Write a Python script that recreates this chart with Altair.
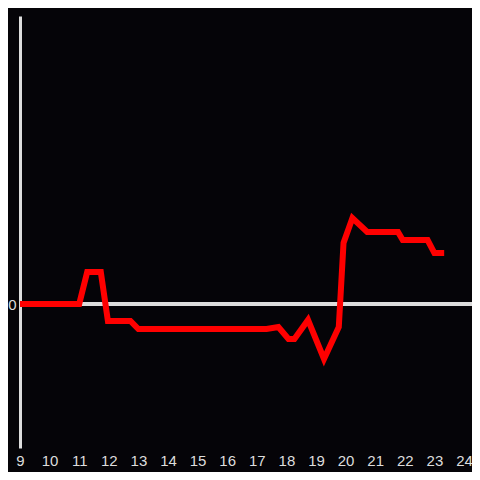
import altair as alt
import pandas as pd

hours = [9, 11, 11.27, 11.73, 11.97, 12.73, 13.0, 17.33, 17.73, 18.07, 18.27, 18.73,
         19.27, 19.77, 19.93, 20.23, 20.73, 21.77, 21.93, 22.77, 23.0, 23.33]
values = [0, 0, 0.222, 0.222, -0.118, -0.118, -0.174, -0.174, -0.16, -0.243, -0.243, -0.111,
          -0.382, -0.16, 0.424, 0.597, 0.5, 0.5, 0.444, 0.444, 0.354, 0.354]
x_ticks = list(range(9, 25))

df = pd.DataFrame({"x": hours, "y": values})

W, H = 452, 432
axis_col = "#dddddd"
bg = "#050408"

xs = alt.Scale(domain=[9, 24.27], nice=False, zero=False)
ys = alt.Scale(domain=[-1, 2], nice=False, zero=False)

zero_rule = alt.Chart(df).mark_rule(color=axis_col, strokeWidth=3).encode(
    y=alt.datum(0, scale=ys), x=alt.value(0), x2=alt.value(W)
)

line = alt.Chart(df).mark_line(color="#ff0000", strokeWidth=6, strokeJoin="miter").encode(
    x=alt.X("x:Q", scale=xs,
            axis=alt.Axis(values=x_ticks, title=None, domain=False, ticks=False, grid=False,
                          labelPadding=5, labelFontSize=15, labelColor=axis_col,
                          labelFont="Liberation Sans", format="d", labelFlush=False)),
    y=alt.Y("y:Q", scale=ys,
            axis=alt.Axis(values=[0], title=None, ticks=False, grid=False, domain=True,
                          domainColor=axis_col, domainWidth=3, labelPadding=4, format="d",
                          labelFontSize=15, labelColor=axis_col, labelFont="Liberation Sans")),
)

chart = alt.layer(zero_rule, line).properties(
    width=W, height=H,
    background=bg,
    autosize=alt.AutoSizeParams(type="none"),
    padding={"left": 12, "top": 8, "right": 0, "bottom": 24},
).configure_view(stroke=None)

chart.save("out.html", embed_options={"renderer": "svg", "actions": False})
